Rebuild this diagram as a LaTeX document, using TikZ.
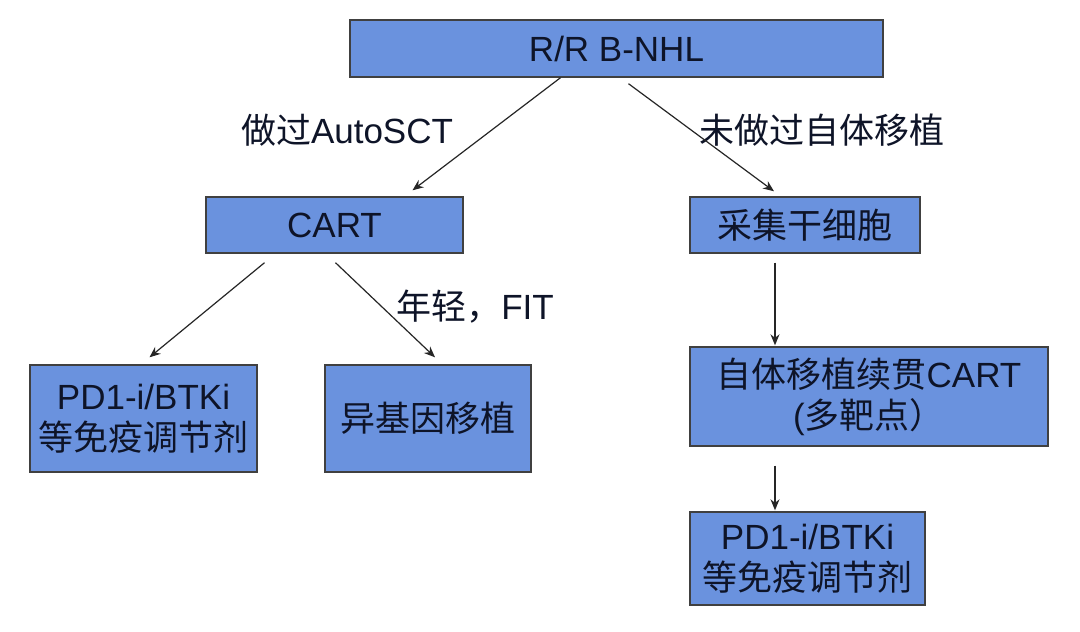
\documentclass[tikz,border=0pt]{standalone}
\usepackage{fontspec}
\setmainfont{Liberation Sans}
\newfontfamily\cjk{Noto Sans CJK SC}
\usepackage{tikz}
\usetikzlibrary{arrows.meta, positioning, calc}

\definecolor{boxblue}{RGB}{106,146,222}
\definecolor{inkdark}{RGB}{14,20,40}

\tikzset{
  box/.style={draw=black!75, line width=1.4pt, fill=boxblue, text=inkdark,
              inner sep=0pt, align=center, font=\fontsize{35}{41}\selectfont},
  lbl/.style={text=inkdark, font=\fontsize{35}{41}\selectfont},
  arr/.style={->, line width=1.2pt, black!85}
}

\begin{document}
\begin{tikzpicture}[>={Stealth[length=11pt,width=9pt]}, x=1pt, y=-1pt]
  \useasboundingbox[fill=white] (0,0) rectangle (1080,632);

  % Boxes
  \node[box, minimum width=533pt, minimum height=57pt] (rrnhl) at (616.5,48.5) {R/R B-NHL};
  \node[box, minimum width=257pt, minimum height=56pt] (cart) at (334.5,225) {CART};
  \node[box, minimum width=230pt, minimum height=56pt] (harvest) at (805,225) {\cjk 采集干细胞};
  \node[box, minimum width=227pt, minimum height=107pt] (pdleft) at (143.5,418.5)
    {PD1-i/BTKi\\{\cjk 等免疫调节剂}};
  \node[box, minimum width=206pt, minimum height=107pt] (allo) at (428,418.5) {\cjk 异基因移植};
  \node[box, minimum width=358pt, minimum height=99pt] (auto) at (869,396.5)
    {{\cjk 自体移植续贯}CART\\({\cjk 多靶点）}};
  \node[box, minimum width=235pt, minimum height=93pt] (pdright) at (807.5,558.5)
    {PD1-i/BTKi\\{\cjk 等免疫调节剂}};

  % Branch labels
  \node[lbl] (done) at (347,130) {{\cjk 做过}AutoSCT};
  \node[lbl] (notdone) at (822,130) {\cjk 未做过自体移植};
  \node[lbl] (young) at (475,307) {{\cjk 年轻，}FIT};

  % Arrows
  \draw[arr] ([xshift=-56pt]rrnhl.south) -- ([xshift=78pt,yshift=6pt]cart.north);
  \draw[arr] ([xshift=12pt,yshift=-6pt]rrnhl.south) -- ([xshift=-31pt,yshift=5pt]harvest.north);
  \draw[arr] ([xshift=-70pt,yshift=-9pt]cart.south) -- ([xshift=6pt,yshift=7pt]pdleft.north);
  \draw[arr] ([xshift=1pt,yshift=-9pt]cart.south) -- ([xshift=7pt,yshift=7pt]allo.north);
  \draw[arr] ([xshift=-30pt,yshift=-9pt]harvest.south) -- ([xshift=-94pt,yshift=1pt]auto.north);
  \draw[arr] ([xshift=-94pt,yshift=-19pt]auto.south) -- ([xshift=-32.5pt,yshift=1pt]pdright.north);
\end{tikzpicture}
\end{document}
